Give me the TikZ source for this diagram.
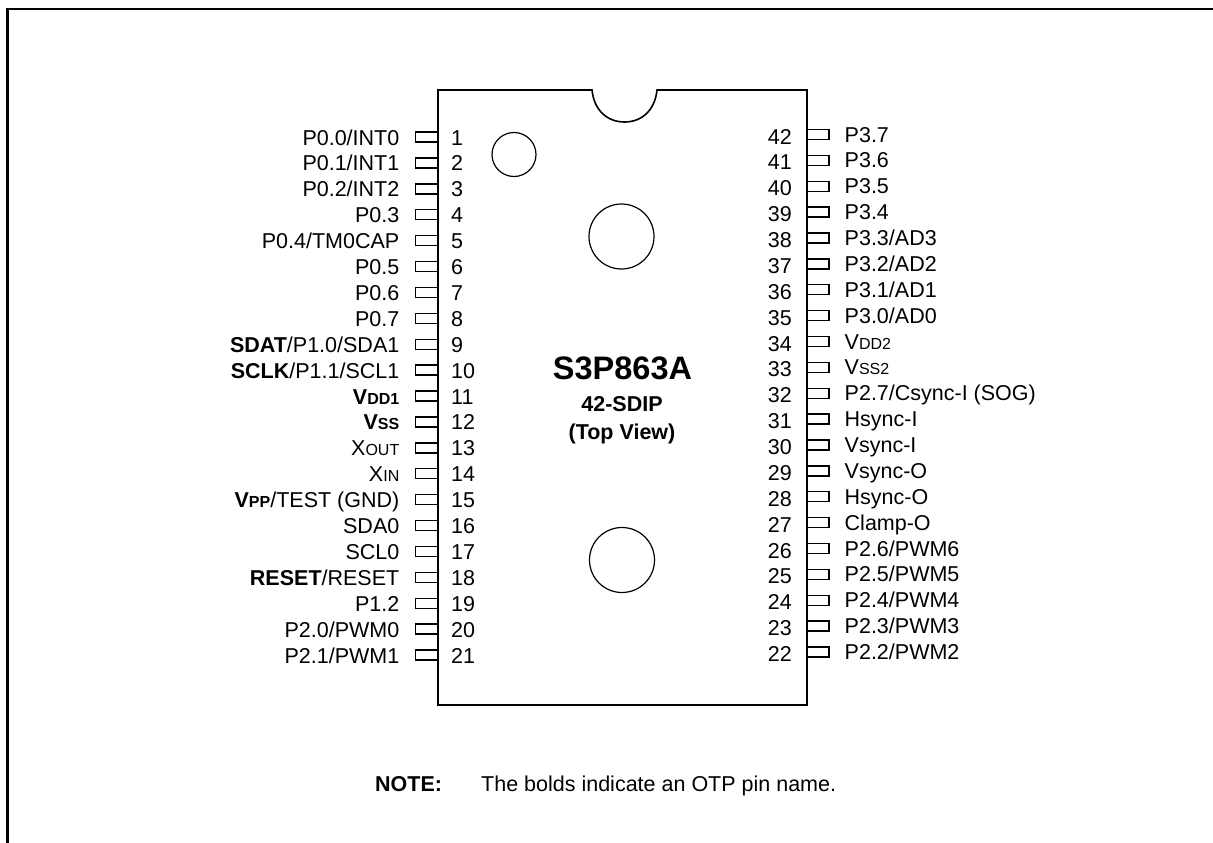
\documentclass[tikz,border=0pt]{standalone}
\usepackage{fontspec}
\setmainfont{Liberation Sans}
\usepackage{tikz}
\newcommand{\lowcap}[1]{{\fontsize{16}{16}\selectfont #1}}

\begin{document}
\begin{tikzpicture}[
  x=1pt, y=-1pt,
  font=\fontsize{21.5}{24}\selectfont,
  pin/.style={draw, line width=1.4pt, minimum width=22pt, minimum height=10pt, inner sep=0pt, outer sep=0pt},
  hole/.style={draw, circle, line width=1.2pt, inner sep=0pt},
  lefttxt/.style={anchor=base east, inner sep=0pt},
  righttxt/.style={anchor=base west, inner sep=0pt},
  title/.style={anchor=base, inner sep=0pt, font=\fontsize{21.5}{24}\selectfont\bfseries}
]
  \useasboundingbox (0,0) rectangle (1213,843);

  % page frame, open at the right and at the bottom
  \draw[line width=2.2pt] (7.5,843) -- (7.5,9) -- (1213,9);

  % package outline with notch
  \draw[line width=1.6pt] (438,90) -- (592,90)
    .. controls (594,110) and (607,122) .. (624.5,122)
    .. controls (642,122) and (655,110) .. (657,90)
    -- (807,90) -- (807,705) -- (438,705) -- cycle;

  \node[hole, minimum size=44pt] (mark) at (514,154.5) {};
  \node[hole, minimum size=65pt] (holetop) at (621.5,236.5) {};
  \node[hole, minimum size=65pt] (holebot) at (622,560) {};

  % pins 1 to 21
  \foreach \pinname [count=\n] in {
    P0.0/INT0, P0.1/INT1, P0.2/INT2, P0.3, P0.4/TM0CAP, P0.5, P0.6, P0.7,
    \textbf{SDAT}/P1.0/SDA1, \textbf{SCLK}/P1.1/SCL1,
    \textbf{V\lowcap{DD1}}, \textbf{V\lowcap{SS}}, X\lowcap{OUT}, X\lowcap{IN},
    \textbf{V\lowcap{PP}}/TEST (GND), SDA0, SCL0, \textbf{RESET}/RESET,
    P1.2, P2.0/PWM0, P2.1/PWM1} {
    \pgfmathsetmacro{\py}{137+25.9*(\n-1)}
    \node[pin] (pin\n) at (426.5,\py) {};
    \node[lefttxt] (name\n) at (399.5,\py+8) {\pinname};
    \node[righttxt] (num\n) at (451,\py+8) {\n};
  }

  % pins 22 to 42, counted upward
  \foreach \pinname [count=\n from 22] in {
    P2.2/PWM2, P2.3/PWM3, P2.4/PWM4, P2.5/PWM5, P2.6/PWM6, Clamp-O,
    Hsync-O, Vsync-O, Vsync-I, Hsync-I, P2.7/Csync-I (SOG),
    V\lowcap{SS2}, V\lowcap{DD2}, P3.0/AD0, P3.1/AD1, P3.2/AD2, P3.3/AD3,
    P3.4, P3.5, P3.6, P3.7} {
    \pgfmathsetmacro{\py}{134.5+25.875*(42-\n)}
    \node[pin] (pin\n) at (818,\py) {};
    \node[righttxt] (name\n) at (844.5,\py+7.5) {\pinname};
    \node[lefttxt] (num\n) at (792,\py+9.5) {\n};
  }

  \node[title, font=\fontsize{32.5}{36}\selectfont\bfseries] (part) at (622.5,379) {S3P863A};
  \node[title] (pkg) at (622,411) {42-SDIP};
  \node[title] (view) at (622,439) {(Top View)};

  \node[righttxt, font=\fontsize{21.5}{24}\selectfont\bfseries] (note) at (375,791) {NOTE:};
  \node[righttxt] (notetxt) at (481,791) {The bolds indicate an OTP pin name.};
\end{tikzpicture}
\end{document}
